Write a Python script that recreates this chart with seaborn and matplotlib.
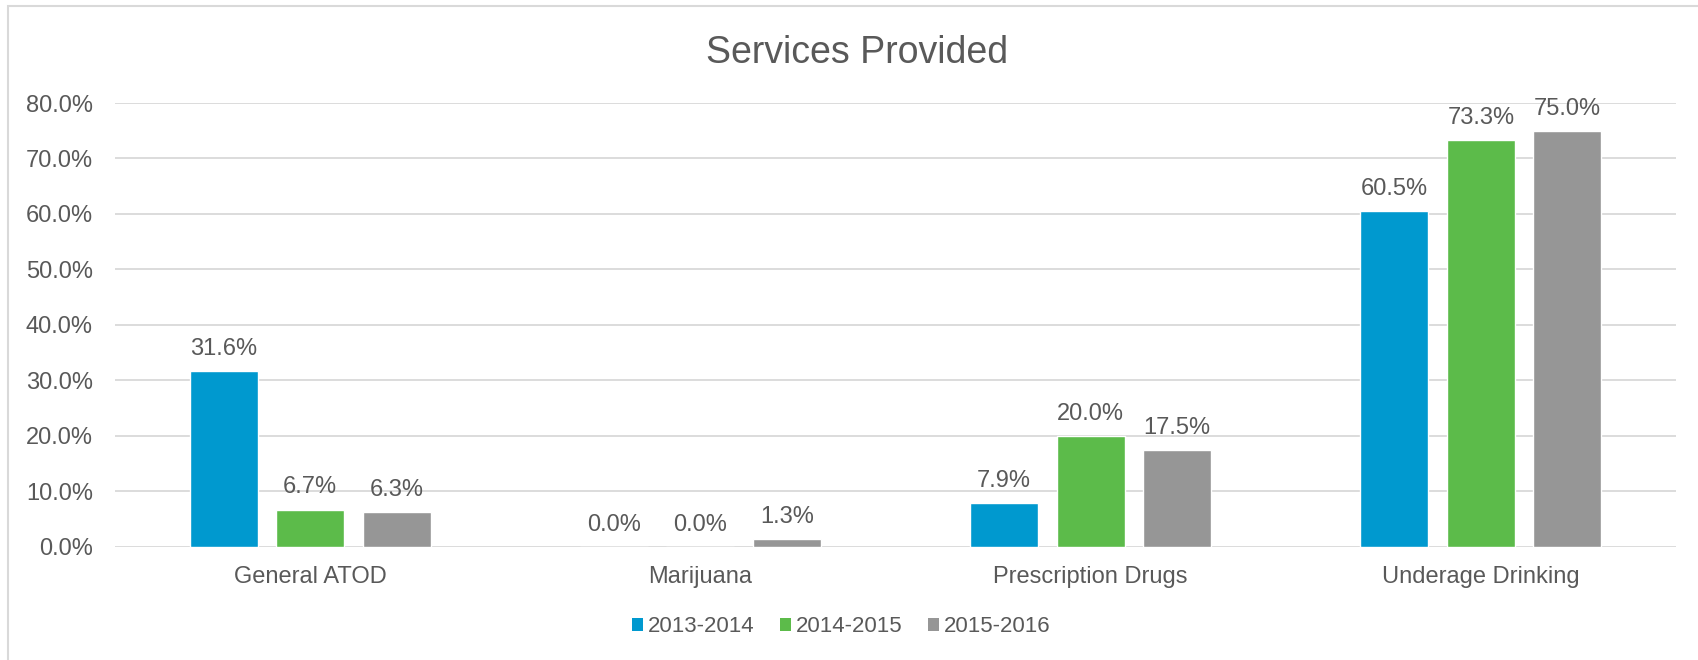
import matplotlib
matplotlib.use("Agg")
import matplotlib.pyplot as plt
from matplotlib.patches import Patch, Rectangle
from matplotlib.ticker import FuncFormatter, MultipleLocator
import pandas as pd
import seaborn as sns

# Share of services provided, by focus area and school year (percent)
categories = ["General ATOD", "Marijuana", "Prescription Drugs", "Underage Drinking"]
years = ["2013-2014", "2014-2015", "2015-2016"]
values_2013_2014 = [31.6, 0.0, 7.9, 60.5]
values_2014_2015 = [6.7, 0.0, 20.0, 73.3]
values_2015_2016 = [6.3, 1.3, 17.5, 75.0]
colors = ["#0099CF", "#5CBB4A", "#969696"]

rows = []
for year, vals in zip(years, [values_2013_2014, values_2014_2015, values_2015_2016]):
    for cat, v in zip(categories, vals):
        rows.append({"category": cat, "year": year, "value": v})
df = pd.DataFrame(rows)

sns.set_theme(style="white")
plt.rcParams["font.family"] = ["Liberation Sans", "DejaVu Sans"]
text_color = "#595959"
grid_color = "#D9D9D9"

W, H = 1699, 660
fig = plt.figure(figsize=(W / 100, H / 100), dpi=100)
fig.patch.set_facecolor("white")

left, right, top, bottom = 115, 1676, 103, 546.7
ax = fig.add_axes([left / W, 1 - bottom / H, (right - left) / W, (bottom - top) / H])

sns.barplot(
    data=df, x="category", y="value", hue="year", order=categories,
    hue_order=years, palette=colors, width=0.665, gap=0.215,
    saturation=1, legend=False, ax=ax, errorbar=None,
)

for cont in ax.containers:
    ax.bar_label(cont, fmt="%.1f%%", padding=8, fontsize=17, color=text_color)

ax.set_ylim(0, 80)
ax.set_xlim(-0.5, len(categories) - 0.5)
ax.yaxis.set_major_locator(MultipleLocator(10))
ax.yaxis.set_major_formatter(FuncFormatter(lambda v, p: f"{v:.1f}%"))
ax.grid(axis="y", color=grid_color, linewidth=1.3)
ax.set_axisbelow(True)
for s in ax.spines.values():
    s.set_visible(False)
ax.tick_params(axis="y", length=0, pad=16, labelsize=17, labelcolor=text_color)
ax.tick_params(axis="x", length=0, pad=14, labelsize=17, labelcolor=text_color)
ax.set_xlabel("")
ax.set_ylabel("")

fig.text(857 / W, 1 - 62.7 / H, "Services Provided", ha="center", va="baseline",
         fontsize=27, color=text_color)

handles = [Patch(facecolor=c, edgecolor="none", label=y) for c, y in zip(colors, years)]
fig.legend(
    handles=handles, loc="center", bbox_to_anchor=(841 / W, 1 - 627 / H),
    ncol=3, frameon=False, fontsize=16, labelcolor=text_color,
    handlelength=0.52, handleheight=0.52, handletextpad=0.2, columnspacing=1.15,
)

# Chart-area frame along the top and left edges
fig.patches.append(Rectangle((8.5 / W, -0.1), 1.2, 1.1 - 6.5 / H, transform=fig.transFigure,
                             fill=False, edgecolor=grid_color, linewidth=1.5))

fig.savefig("out.png", dpi=100)
